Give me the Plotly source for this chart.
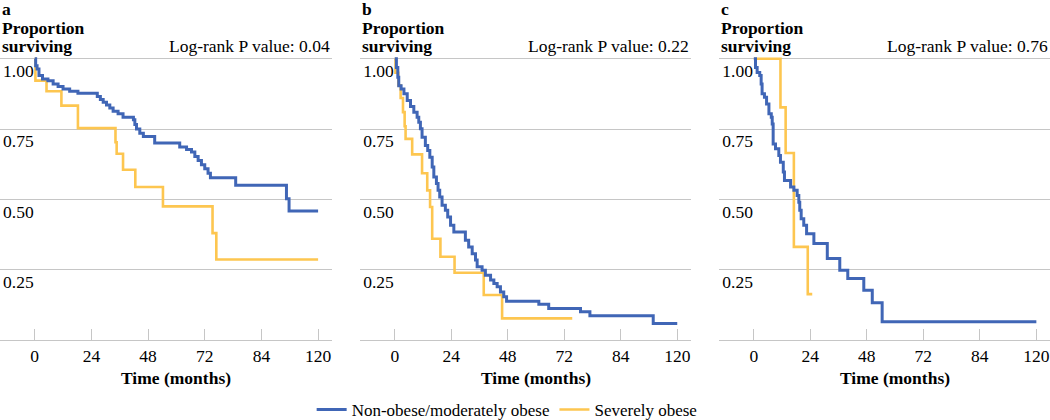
import plotly.graph_objects as go

# ---- data (time in months, proportion surviving) ----
panel_letters = ["a", "b", "c"]
p_values = ["0.04", "0.22", "0.76"]

a_blue_t = [0, 0.4, 1.0, 1.8, 3.3, 5.6, 7.8, 9.9, 12.0, 14.8, 18.3, 26.5, 27.8, 29.0, 30.4, 31.8, 33.2,
            35.3, 37.4, 41.8, 42.4, 43.1, 44.5, 46.0, 50.8, 61.4, 64.3, 66.4, 67.8, 69.2, 70.6, 72.0,
            73.4, 74.4, 85.1, 106.6, 107.7, 120]
a_blue_s = [1.0, 0.975, 0.963, 0.940, 0.928, 0.922, 0.910, 0.901, 0.892, 0.884, 0.877, 0.866, 0.855,
            0.845, 0.835, 0.825, 0.813, 0.804, 0.792, 0.783, 0.766, 0.750, 0.735, 0.723, 0.700, 0.686,
            0.677, 0.668, 0.652, 0.638, 0.623, 0.609, 0.593, 0.577, 0.550, 0.502, 0.459, 0.459]
a_yel_t = [0, 0.3, 5.0, 11.3, 18.3, 34.2, 34.7, 37.4, 42.6, 54.3, 75.3, 76.9, 120]
a_yel_s = [1.0, 0.922, 0.884, 0.833, 0.753, 0.703, 0.662, 0.605, 0.544, 0.475, 0.380, 0.286, 0.286]

b_blue_t = [0, 0.7, 1.3, 1.7, 2.7, 3.9, 5.3, 6.7, 8.1, 9.5, 10.2, 10.9, 11.6, 13.0, 14.0, 14.9, 15.9,
            16.6, 17.7, 18.4, 19.1, 20.1, 21.5, 22.5, 23.7, 25.1, 30.0, 31.4, 32.9, 34.3, 35.0, 37.1,
            38.5, 40.7, 42.1, 43.5, 44.9, 46.3, 47.5, 61.2, 65.4, 78.9, 82.9, 109.8, 120]
b_blue_s = [1.0, 0.969, 0.934, 0.904, 0.892, 0.875, 0.851, 0.830, 0.810, 0.792, 0.774, 0.751, 0.721,
            0.691, 0.674, 0.650, 0.615, 0.579, 0.556, 0.532, 0.508, 0.479, 0.461, 0.437, 0.408, 0.384,
            0.355, 0.331, 0.307, 0.284, 0.260, 0.248, 0.230, 0.213, 0.201, 0.189, 0.171, 0.154, 0.138,
            0.127, 0.112, 0.100, 0.086, 0.059, 0.059]
b_yel_t = [0, 0.3, 1.5, 2.5, 3.5, 4.2, 4.6, 7.4, 11.6, 13.8, 15.0, 15.9, 19.4, 25.4, 37.8, 45.6, 75.4]
b_yel_s = [1.0, 0.95, 0.905, 0.86, 0.81, 0.76, 0.715, 0.66, 0.593, 0.532, 0.473, 0.36, 0.296, 0.239,
           0.160, 0.077, 0.077]

c_blue_t = [0, 0.7, 1.4, 2.5, 3.1, 3.5, 4.5, 5.4, 6.4, 7.4, 7.8, 8.2, 9.2, 10.6, 11.3, 12.5, 13.0, 15.6,
            17.0, 18.4, 19.1, 19.5, 20.1, 21.2, 22.4, 25.5, 31.2, 36.5, 39.9, 46.7, 50.3, 54.5, 120]
c_blue_s = [1.0, 0.969, 0.951, 0.940, 0.910, 0.875, 0.863, 0.839, 0.804, 0.792, 0.768, 0.697, 0.680,
            0.656, 0.632, 0.597, 0.567, 0.544, 0.532, 0.514, 0.490, 0.461, 0.431, 0.408, 0.378, 0.343,
            0.290, 0.248, 0.219, 0.177, 0.132, 0.065, 0.065]
c_yel_t = [0, 11.3, 13.5, 17.0, 22.9, 24.8]
c_yel_s = [1.0, 0.827, 0.665, 0.331, 0.163, 0.163]

x_tickvals = [0, 24, 48, 72, 96, 120]
x_ticktext = ["0", "24", "48", "72", "84", "120"]   # as printed on the original
y_tickvals = [0.25, 0.5, 0.75, 1.0]

# ---- style ----
BLUE = "#4066B6"
YELLOW = "#FDC650"
GRID = "#C6C6C6"
FONT = "Liberation Serif"
FS = 17.5

domains = [[0.0, 0.316], [0.343, 0.658], [0.685, 1.0]]
series = [
    (a_blue_t, a_blue_s, a_yel_t, a_yel_s),
    (b_blue_t, b_blue_s, b_yel_t, b_yel_s),
    (c_blue_t, c_blue_s, c_yel_t, c_yel_s),
]

fig = go.Figure()
annotations = []
layout_axes = {}

for i, (bt, bs, yt, ys) in enumerate(series):
    n = "" if i == 0 else str(i + 1)
    xa, ya = "x" + n, "y" + n
    # yellow first so the blue sits on top, as in the original
    fig.add_trace(go.Scatter(x=yt, y=ys, mode="lines", line=dict(color=YELLOW, width=2.6, shape="hv"),
                             name="Severely obese", legendgroup="sev", showlegend=(i == 0),
                             legendrank=2, xaxis=xa, yaxis=ya))
    fig.add_trace(go.Scatter(x=bt, y=bs, mode="lines", line=dict(color=BLUE, width=3, shape="hv"),
                             name="Non-obese/moderately obese", legendgroup="non", showlegend=(i == 0),
                             legendrank=1, xaxis=xa, yaxis=ya))

    layout_axes["xaxis" + n] = dict(
        domain=domains[i], range=[-14.7, 125.8], anchor=ya,
        tickvals=x_tickvals, ticktext=x_ticktext, ticks="inside", ticklen=11, tickcolor=GRID,
        showline=True, linecolor=GRID, linewidth=1.3, showgrid=False, zeroline=False,
        tickfont=dict(family=FONT, size=FS, color="black"),
    )
    layout_axes["yaxis" + n] = dict(
        domain=[0, 1], range=[0, 1.006], anchor=xa,
        tickvals=y_tickvals, tickformat=".2f", ticklabelposition="inside bottom",
        showgrid=True, gridcolor=GRID, gridwidth=1.3, zeroline=False, showline=False,
        tickfont=dict(family=FONT, size=FS, color="black"),
    )

    xd = "x" + n + " domain"
    annotations += [
        dict(text="<b>" + panel_letters[i] + "</b>", xref=xd, x=0, xanchor="left",
             yref="paper", y=1.168, yanchor="middle", showarrow=False),
        dict(text="<b>Proportion</b>", xref=xd, x=0, xanchor="left",
             yref="paper", y=1.103, yanchor="middle", showarrow=False),
        dict(text="<b>surviving</b>", xref=xd, x=0, xanchor="left",
             yref="paper", y=1.039, yanchor="middle", showarrow=False),
        dict(text="Log-rank P value: " + p_values[i], xref=xd, x=1, xanchor="right",
             yref="paper", y=1.039, yanchor="middle", showarrow=False),
        dict(text="<b>Time (months)</b>", xref="x" + n, x=60, xanchor="center",
             yref="paper", y=-0.134, yanchor="middle", showarrow=False),
    ]

fig.update_layout(
    width=1050, height=420,
    margin=dict(l=0, r=0, t=57, b=80, pad=0, autoexpand=False),
    paper_bgcolor="white", plot_bgcolor="white",
    font=dict(family=FONT, size=FS, color="black"),
    annotations=annotations,
    showlegend=True,
    legend=dict(orientation="h", x=0.483, xanchor="center", y=-0.247, yanchor="middle",
                itemwidth=30, font=dict(family=FONT, size=17)),
    **layout_axes,
)

# the page body has a default 8px margin; drop it so the figure sits at the window's corner
fig.write_html("out.html", config={"displayModeBar": False},
               post_script="document.body.style.margin='0';")
